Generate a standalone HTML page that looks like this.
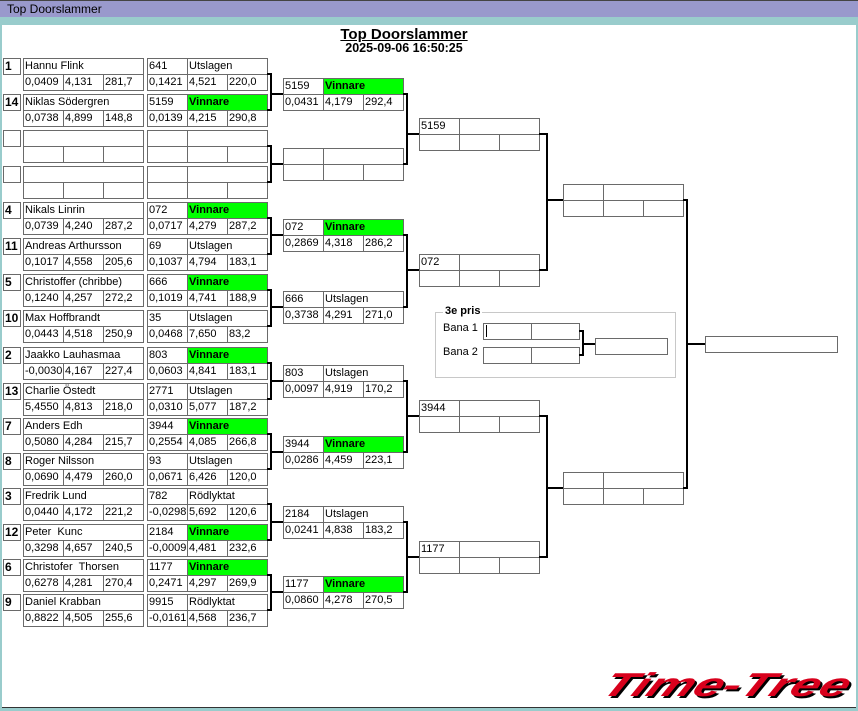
<!DOCTYPE html>
<html><head><meta charset="utf-8"><style>
body{margin:0;width:858px;height:711px;overflow:hidden;background:#fff;position:relative;font-family:"Liberation Sans",sans-serif}
.frame{position:absolute;left:0;top:0;width:858px;height:711px;box-sizing:border-box;border-left:2px solid #99cccc;border-right:2px solid #99cccc;border-bottom:3px solid #99cccc;box-shadow:inset 0 -1px 0 #333}
.tb{position:absolute;left:0;top:0;width:858px;height:17px;background:#9999cc;border-top:1px solid #444;box-sizing:border-box;font-size:12px;line-height:16px;padding-left:7px;color:#000}
.tb2{position:absolute;left:0;top:17px;width:858px;height:8px;background:#99cccc}
.bx{position:absolute;width:121px;height:33px}
.bx div,.sd{position:absolute;border:1px solid #6a6a6a;box-sizing:border-box;height:17px;font-size:11px;line-height:15px;padding-left:1px;white-space:nowrap;overflow:hidden;color:#000}
.n{left:0;top:0;width:121px}
.a{left:0;top:0;width:41px}
.s{left:40px;top:0;width:81px}
.c1{left:0;top:16px;width:41px}
.c2{left:40px;top:16px;width:41px}
.c3{left:80px;top:16px;width:41px}
.g{background:#00ff00;font-weight:bold}
.sd{left:3px;width:18px;font-weight:bold;font-size:12px;padding-left:1px}
.t{position:absolute;font-weight:bold;text-align:center;width:858px;left:-25px}
</style></head><body>
<div class="frame"></div>
<div class="tb">Top Doorslammer</div><div class="tb2"></div>
<div class="t" style="top:26px;font-size:15px;text-decoration:underline">Top Doorslammer</div>
<div class="t" style="top:41px;font-size:12.5px">2025-09-06 16:50:25</div>

<div class="sd" style="top:58px">1</div>
<div class="sd" style="top:94px">14</div>
<div class="sd" style="top:130px"></div>
<div class="sd" style="top:166px"></div>
<div class="sd" style="top:202px">4</div>
<div class="sd" style="top:238px">11</div>
<div class="sd" style="top:274px">5</div>
<div class="sd" style="top:310px">10</div>
<div class="sd" style="top:347px">2</div>
<div class="sd" style="top:383px">13</div>
<div class="sd" style="top:418px">7</div>
<div class="sd" style="top:453px">8</div>
<div class="sd" style="top:488px">3</div>
<div class="sd" style="top:524px">12</div>
<div class="sd" style="top:559px">6</div>
<div class="sd" style="top:594px">9</div>

<div class="bx" style="left:23px;top:58px"><div class="n">Hannu Flink</div><div class="c1">0,0409</div><div class="c2">4,131</div><div class="c3">281,7</div></div>
<div class="bx" style="left:23px;top:94px"><div class="n">Niklas Södergren</div><div class="c1">0,0738</div><div class="c2">4,899</div><div class="c3">148,8</div></div>
<div class="bx" style="left:23px;top:130px"><div class="n"></div><div class="c1"></div><div class="c2"></div><div class="c3"></div></div>
<div class="bx" style="left:23px;top:166px"><div class="n"></div><div class="c1"></div><div class="c2"></div><div class="c3"></div></div>
<div class="bx" style="left:23px;top:202px"><div class="n">Nikals Linrin</div><div class="c1">0,0739</div><div class="c2">4,240</div><div class="c3">287,2</div></div>
<div class="bx" style="left:23px;top:238px"><div class="n">Andreas Arthursson</div><div class="c1">0,1017</div><div class="c2">4,558</div><div class="c3">205,6</div></div>
<div class="bx" style="left:23px;top:274px"><div class="n">Christoffer (chribbe)</div><div class="c1">0,1240</div><div class="c2">4,257</div><div class="c3">272,2</div></div>
<div class="bx" style="left:23px;top:310px"><div class="n">Max Hoffbrandt</div><div class="c1">0,0443</div><div class="c2">4,518</div><div class="c3">250,9</div></div>
<div class="bx" style="left:23px;top:347px"><div class="n">Jaakko Lauhasmaa</div><div class="c1">-0,0030</div><div class="c2">4,167</div><div class="c3">227,4</div></div>
<div class="bx" style="left:23px;top:383px"><div class="n">Charlie Östedt</div><div class="c1">5,4550</div><div class="c2">4,813</div><div class="c3">218,0</div></div>
<div class="bx" style="left:23px;top:418px"><div class="n">Anders Edh</div><div class="c1">0,5080</div><div class="c2">4,284</div><div class="c3">215,7</div></div>
<div class="bx" style="left:23px;top:453px"><div class="n">Roger Nilsson</div><div class="c1">0,0690</div><div class="c2">4,479</div><div class="c3">260,0</div></div>
<div class="bx" style="left:23px;top:488px"><div class="n">Fredrik Lund</div><div class="c1">0,0440</div><div class="c2">4,172</div><div class="c3">221,2</div></div>
<div class="bx" style="left:23px;top:524px"><div class="n">Peter&nbsp; Kunc</div><div class="c1">0,3298</div><div class="c2">4,657</div><div class="c3">240,5</div></div>
<div class="bx" style="left:23px;top:559px"><div class="n">Christofer&nbsp; Thorsen</div><div class="c1">0,6278</div><div class="c2">4,281</div><div class="c3">270,4</div></div>
<div class="bx" style="left:23px;top:594px"><div class="n">Daniel Krabban</div><div class="c1">0,8822</div><div class="c2">4,505</div><div class="c3">255,6</div></div>

<div class="bx" style="left:147px;top:58px"><div class="a">641</div><div class="s">Utslagen</div><div class="c1">0,1421</div><div class="c2">4,521</div><div class="c3">220,0</div></div>
<div class="bx" style="left:147px;top:94px"><div class="a">5159</div><div class="s g">Vinnare</div><div class="c1">0,0139</div><div class="c2">4,215</div><div class="c3">290,8</div></div>
<div class="bx" style="left:147px;top:130px"><div class="a"></div><div class="s"></div><div class="c1"></div><div class="c2"></div><div class="c3"></div></div>
<div class="bx" style="left:147px;top:166px"><div class="a"></div><div class="s"></div><div class="c1"></div><div class="c2"></div><div class="c3"></div></div>
<div class="bx" style="left:147px;top:202px"><div class="a">072</div><div class="s g">Vinnare</div><div class="c1">0,0717</div><div class="c2">4,279</div><div class="c3">287,2</div></div>
<div class="bx" style="left:147px;top:238px"><div class="a">69</div><div class="s">Utslagen</div><div class="c1">0,1037</div><div class="c2">4,794</div><div class="c3">183,1</div></div>
<div class="bx" style="left:147px;top:274px"><div class="a">666</div><div class="s g">Vinnare</div><div class="c1">0,1019</div><div class="c2">4,741</div><div class="c3">188,9</div></div>
<div class="bx" style="left:147px;top:310px"><div class="a">35</div><div class="s">Utslagen</div><div class="c1">0,0468</div><div class="c2">7,650</div><div class="c3">83,2</div></div>
<div class="bx" style="left:147px;top:347px"><div class="a">803</div><div class="s g">Vinnare</div><div class="c1">0,0603</div><div class="c2">4,841</div><div class="c3">183,1</div></div>
<div class="bx" style="left:147px;top:383px"><div class="a">2771</div><div class="s">Utslagen</div><div class="c1">0,0310</div><div class="c2">5,077</div><div class="c3">187,2</div></div>
<div class="bx" style="left:147px;top:418px"><div class="a">3944</div><div class="s g">Vinnare</div><div class="c1">0,2554</div><div class="c2">4,085</div><div class="c3">266,8</div></div>
<div class="bx" style="left:147px;top:453px"><div class="a">93</div><div class="s">Utslagen</div><div class="c1">0,0671</div><div class="c2">6,426</div><div class="c3">120,0</div></div>
<div class="bx" style="left:147px;top:488px"><div class="a">782</div><div class="s">Rödlyktat</div><div class="c1">-0,0298</div><div class="c2">5,692</div><div class="c3">120,6</div></div>
<div class="bx" style="left:147px;top:524px"><div class="a">2184</div><div class="s g">Vinnare</div><div class="c1">-0,0009</div><div class="c2">4,481</div><div class="c3">232,6</div></div>
<div class="bx" style="left:147px;top:559px"><div class="a">1177</div><div class="s g">Vinnare</div><div class="c1">0,2471</div><div class="c2">4,297</div><div class="c3">269,9</div></div>
<div class="bx" style="left:147px;top:594px"><div class="a">9915</div><div class="s">Rödlyktat</div><div class="c1">-0,0161</div><div class="c2">4,568</div><div class="c3">236,7</div></div>

<div class="bx" style="left:283px;top:78px"><div class="a">5159</div><div class="s g">Vinnare</div><div class="c1">0,0431</div><div class="c2">4,179</div><div class="c3">292,4</div></div>
<div class="bx" style="left:283px;top:148px"><div class="a"></div><div class="s"></div><div class="c1"></div><div class="c2"></div><div class="c3"></div></div>
<div class="bx" style="left:283px;top:219px"><div class="a">072</div><div class="s g">Vinnare</div><div class="c1">0,2869</div><div class="c2">4,318</div><div class="c3">286,2</div></div>
<div class="bx" style="left:283px;top:291px"><div class="a">666</div><div class="s">Utslagen</div><div class="c1">0,3738</div><div class="c2">4,291</div><div class="c3">271,0</div></div>
<div class="bx" style="left:283px;top:365px"><div class="a">803</div><div class="s">Utslagen</div><div class="c1">0,0097</div><div class="c2">4,919</div><div class="c3">170,2</div></div>
<div class="bx" style="left:283px;top:436px"><div class="a">3944</div><div class="s g">Vinnare</div><div class="c1">0,0286</div><div class="c2">4,459</div><div class="c3">223,1</div></div>
<div class="bx" style="left:283px;top:506px"><div class="a">2184</div><div class="s">Utslagen</div><div class="c1">0,0241</div><div class="c2">4,838</div><div class="c3">183,2</div></div>
<div class="bx" style="left:283px;top:576px"><div class="a">1177</div><div class="s g">Vinnare</div><div class="c1">0,0860</div><div class="c2">4,278</div><div class="c3">270,5</div></div>

<div class="bx" style="left:419px;top:118px"><div class="a">5159</div><div class="s"></div><div class="c1"></div><div class="c2"></div><div class="c3"></div></div>
<div class="bx" style="left:419px;top:254px"><div class="a">072</div><div class="s"></div><div class="c1"></div><div class="c2"></div><div class="c3"></div></div>
<div class="bx" style="left:419px;top:400px"><div class="a">3944</div><div class="s"></div><div class="c1"></div><div class="c2"></div><div class="c3"></div></div>
<div class="bx" style="left:419px;top:541px"><div class="a">1177</div><div class="s"></div><div class="c1"></div><div class="c2"></div><div class="c3"></div></div>

<div class="bx" style="left:563px;top:184px"><div class="a"></div><div class="s"></div><div class="c1"></div><div class="c2"></div><div class="c3"></div></div>
<div class="bx" style="left:563px;top:472px"><div class="a"></div><div class="s"></div><div class="c1"></div><div class="c2"></div><div class="c3"></div></div>

<div class="bx" style="left:705px;top:336px;width:133px"><div style="left:0;top:0;width:133px"></div></div>

<div style="position:absolute;left:435px;top:312px;width:241px;height:66px;border:1px solid #c8c8c8;box-sizing:border-box"></div>
<div style="position:absolute;left:443px;top:305px;background:#fff;padding:0 2px;font-size:11px;font-weight:bold">3e pris</div>
<div style="position:absolute;left:443px;top:322px;font-size:11px">Bana 1</div>
<div style="position:absolute;left:443px;top:346px;font-size:11px">Bana 2</div>
<div class="bx" style="left:483px;top:323px;width:97px"><div style="left:0;top:0;width:49px"></div><div style="left:48px;top:0;width:49px"></div></div>
<div style="position:absolute;left:486px;top:325px;width:1px;height:12px;background:#000"></div>
<div class="bx" style="left:483px;top:347px;width:97px"><div style="left:0;top:0;width:49px"></div><div style="left:48px;top:0;width:49px"></div></div>
<div class="bx" style="left:595px;top:338px;width:73px"><div style="left:0;top:0;width:73px"></div></div>

<svg style="position:absolute;left:0;top:0" width="858" height="711" fill="none" stroke="#000" stroke-width="2">
<path d="M267 74H271V110H267M271 94H283"/>
<path d="M267 146H271V182H267M271 164H283"/>
<path d="M267 218H271V254H267M271 235H283"/>
<path d="M267 290H271V326H267M271 307H283"/>
<path d="M267 363H271V399H267M271 381H283"/>
<path d="M267 434H271V469H267M271 452H283"/>
<path d="M267 504H271V540H267M271 522H283"/>
<path d="M267 575H271V610H267M271 592H283"/>
<path d="M403 94H407V164H403M407 134H419"/>
<path d="M403 235H407V307H403M407 270H419"/>
<path d="M403 381H407V452H403M407 416H419"/>
<path d="M403 522H407V592H403M407 557H419"/>
<path d="M539 134H547V270H539M547 200H563"/>
<path d="M539 416H547V557H539M547 488H563"/>
<path d="M683 200H687V488H683M687 344H705"/>
<path d="M579 331H583V355H579M583 344H595"/>
</svg>

<div style="position:absolute;left:614px;top:666px;font-size:33px;font-weight:bold;font-style:italic;color:#d8001c;text-shadow:2px 2px 0 #000;transform:scaleX(1.57) skewX(-18deg);transform-origin:left top;white-space:nowrap">Time-Tree</div>
</body></html>
